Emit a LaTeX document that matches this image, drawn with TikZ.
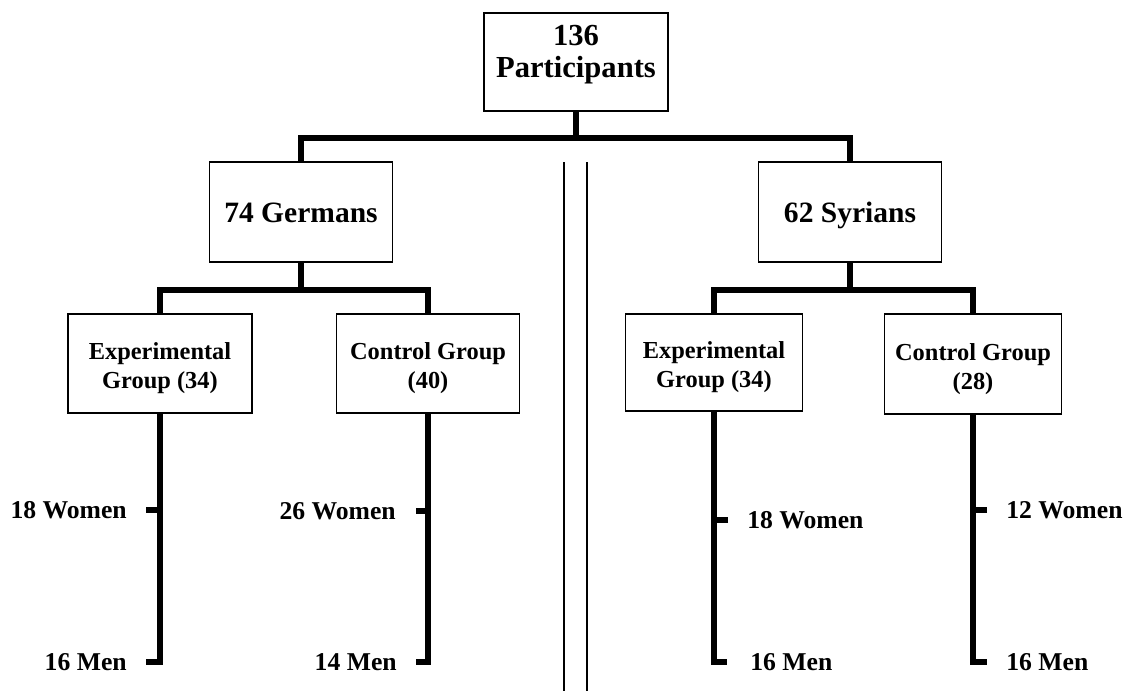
\documentclass[tikz,border=0pt]{standalone}
\usepackage{fontspec}
\setmainfont{Liberation Serif}
\usetikzlibrary{positioning}

\begin{document}
\begin{tikzpicture}[x=0.02cm,y=-0.02cm,
		box/.style={draw,line width=1.1pt,inner sep=0pt,align=center,font=\bfseries\fontsize{13.9}{16.5}\selectfont},
		twoline/.style={text height=28.5pt,text depth=0pt},
		bigtext/.style={font=\bfseries\fontsize{17.4}{18.6}\selectfont,text depth=12pt},
		midtext/.style={font=\bfseries\fontsize{16.8}{20}\selectfont,text height=11.5pt,text depth=0pt},
		bar/.style={line width=3.4pt},
		lbl/.style={inner sep=0pt,font=\bfseries\fontsize{14.6}{17}\selectfont}]
		\useasboundingbox (0,0) rectangle (1142,691);
		% boxes
		\node[box,bigtext,minimum width=3.68cm,minimum height=1.96cm] (all) at (576,62) {136\\Participants};
		\node[box,midtext,minimum width=3.66cm,minimum height=2cm] (ger) at (301,212) {74 Germans};
		\node[box,midtext,minimum width=3.66cm,minimum height=2cm] (syr) at (850,212) {62 Syrians};
		\node[box,twoline,minimum width=3.68cm,minimum height=1.98cm] (gexp) at (160,363.5) {Experimental\\Group (34)};
		\node[box,twoline,minimum width=3.66cm,minimum height=1.98cm] (gctl) at (428,363.5) {Control Group\\(40)};
		\node[box,twoline,minimum width=3.54cm,minimum height=1.94cm] (sexp) at (714,362.5) {Experimental\\Group (34)};
		\node[box,twoline,minimum width=3.54cm,minimum height=2cm] (sctl) at (973,364) {Control Group\\(28)};
		% junctions
		\coordinate (j0) at (576,138);
		\coordinate (j1) at (301,290);
		\coordinate (j2) at (850,290);
		\draw[bar] (all.south) -- (j0);
		\draw[bar] (ger.north) |- (j0) -| (syr.north);
		\draw[bar] (ger.south) -- (j1);
		\draw[bar] (gexp.north) |- (j1) -| (gctl.north);
		\draw[bar] (syr.south) -- (j2);
		\draw[bar] (sexp.north) |- (j2) -| (sctl.north);
		% tick ends
		\coordinate (gew) at (146,510);
		\coordinate (gem) at (146,662);
		\coordinate (gcw) at (416,511);
		\coordinate (gcm) at (416,662);
		\coordinate (sew) at (728,520);
		\coordinate (sem) at (727,662);
		\coordinate (scw) at (987,510);
		\coordinate (scm) at (987,662);
		\draw[bar] (gexp.south) |- (gem);
		\draw[bar] (gew) -- (gew -| gexp.south);
		\draw[bar] (gctl.south) |- (gcm);
		\draw[bar] (gcw) -- (gcw -| gctl.south);
		\draw[bar] (sexp.south) |- (sem);
		\draw[bar] (sew) -- (sew -| sexp.south);
		\draw[bar] (sctl.south) |- (scm);
		\draw[bar] (scw) -- (scw -| sctl.south);
		% labels
		\node[lbl,left=0.38cm of gew] (gewl) {18 Women};
		\node[lbl,left=0.38cm of gem] (geml) {16 Men};
		\node[lbl,left=0.4cm of gcw] (gcwl) {26 Women};
		\node[lbl,left=0.38cm of gcm] (gcml) {14 Men};
		\node[lbl,right=0.38cm of sew] (sewl) {18 Women};
		\node[lbl,right=0.46cm of sem] (seml) {16 Men};
		\node[lbl,right=0.38cm of scw] (scwl) {12 Women};
		\node[lbl,right=0.38cm of scm] (scml) {16 Men};
		% divider
		\draw[line width=0.8pt] (564,162) -- (564,691);
		\draw[line width=0.8pt] (587,162) -- (587,691);
	\end{tikzpicture}
\end{document}
